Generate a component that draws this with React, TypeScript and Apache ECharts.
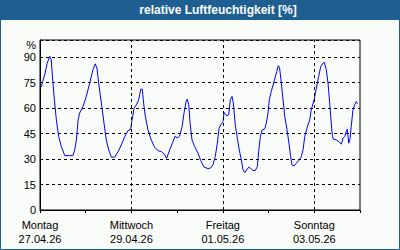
import React, { useEffect, useRef } from "react";
import * as echarts from "echarts";

// hours since Monday 27.04.26 00:00
const hours = [
  0.7, 1.4, 2.5, 3.8, 5.1, 5.9, 6.8, 7.7, 8.6, 9.8, 11.2, 13.0, 15.6, 17.3, 18.2, 19.1, 20.0, 20.8, 22.6,
  24.3, 26.1, 27.8, 29.0, 29.9, 30.8, 32.2, 33.6, 34.8, 36.1, 37.4, 39.2, 41.0, 42.7, 44.5, 46.2, 47.6,
  48.3, 49.4, 50.6, 51.8, 52.9, 53.7, 54.4, 55.3, 56.7, 58.4, 60.2, 62.0, 63.7, 65.1, 66.5, 68.1, 69.5,
  71.0, 72.1, 73.3, 74.6, 75.6, 76.7, 77.3, 78.1, 78.8, 79.8, 81.2, 83.0, 84.4, 86.1, 88.2, 89.6, 90.8,
  92.0, 93.1, 94.0, 94.9, 96.1, 96.6, 97.3, 98.0, 99.1, 99.9, 100.8, 101.5, 102.5, 103.6, 104.6, 105.7,
  106.6, 107.5, 108.5, 109.6, 110.6, 111.8, 113.0, 114.1, 114.8, 115.7, 116.6, 118.0, 118.8, 119.7,
  120.4, 121.4, 122.9, 124.3, 125.1, 125.8, 126.7, 127.6, 128.5, 129.7, 130.7, 131.6, 132.3, 133.4,
  134.6, 135.8, 137.2, 138.1, 139.0, 140.3, 141.6, 142.4, 143.9, 145.1, 146.3, 147.4, 148.6, 149.3,
  150.3, 151.2, 152.1, 152.9, 153.5, 154.0, 155.6, 157.0, 158.2, 159.1, 160.0, 160.8, 161.3, 162.1,
  162.8, 163.4, 164.3, 165.2, 166.1, 166.6,
];

const humidity = [
  72.3, 75.6, 79.6, 86.4, 90.4, 88.4, 74.7, 62.9, 53, 43.2, 37.3, 32, 32, 32, 35.4, 41.2, 53, 57, 60.9,
  66.8, 74.7, 82.5, 86, 83.5, 74.7, 62.9, 51.1, 41.2, 35.4, 31.1, 31.1, 34.4, 38.3, 43.2, 46.7, 47.5,
  53, 59.9, 61.9, 64.8, 71.1, 71.1, 62.9, 55, 47.1, 41.2, 36.9, 34.8, 34.4, 33, 30.4, 35.4, 39.3,
  43.6, 42.2, 43.6, 49.1, 57, 63.8, 65.2, 61.9, 51.1, 41.2, 37.3, 33.4, 29, 25.2, 24.4, 24.7, 26.5,
  31.4, 39.3, 48.1, 50.1, 52, 57.3, 56.6, 55.4, 56, 64.8, 66.8, 62.9, 50.1, 42.2, 35.4, 29.5,
  23.6, 22, 23.6, 25.2, 24.4, 23.2, 23.2, 25.5, 34.4, 43.2, 47.1, 47.7, 51.1, 57,
  64.8, 69.7, 75.6, 81.5, 84.9, 83.5, 74.7, 64.8, 55, 47.1, 39.3, 31.4, 26.5, 25.9,
  27.5, 29, 31.4, 35.4, 43.2, 48.7, 53, 58.9, 64.8, 71.7, 78.6, 84.4, 86.4, 86.8,
  82.5, 74.7, 62.9, 51.1, 43.6, 41.7, 41.2, 40.2, 38.7, 42.2, 43.2, 46.1, 47.5, 39.3,
  42.2, 49.1, 58.9, 61.9, 63.8, 62.5,
];

const dayNames = ["Montag", "Mittwoch", "Freitag", "Sonntag"];
const dayDates = ["27.04.26", "29.04.26", "01.05.26", "03.05.26"];
const labelHours = [0, 48, 96, 144];
const gridHours = [48, 96, 144];

const titleText = "relative Luftfeuchtigkeit [%]";
const font = "'Liberation Sans', Arial, sans-serif";

export default function App() {
  const ref = useRef<HTMLDivElement>(null);

  useEffect(() => {
    if (!ref.current) return;
    const chart = echarts.init(ref.current, undefined, { renderer: "svg" });
    const data = hours.map((h, i) => [h, humidity[i]]);
    chart.setOption({
      animation: false,
      backgroundColor: "#f9fcf9",
      textStyle: { fontFamily: font },
      grid: {
        left: 40,
        right: 40,
        top: 40,
        bottom: 40,
        show: true,
        borderColor: "#000",
        borderWidth: 1,
        backgroundColor: "transparent",
      },
      xAxis: {
        type: "value",
        min: 0,
        max: 168,
        interval: 24,
        axisLine: { show: true, lineStyle: { color: "#000", width: 1 } },
        axisTick: { show: true, length: 3, lineStyle: { color: "#000" } },
        splitLine: { show: false },
        axisLabel: {
          color: "#000",
          fontSize: 11,
          fontFamily: font,
          lineHeight: 14,
          margin: 8,
          showMinLabel: true,
          showMaxLabel: true,
          formatter: (v: number) => {
            const idx = labelHours.indexOf(v);
            return idx >= 0 ? dayNames[idx] + "\n" + dayDates[idx] : "";
          },
        },
      },
      yAxis: {
        type: "value",
        min: 0,
        max: 100,
        interval: 15,
        axisLine: { show: true, lineStyle: { color: "#000", width: 1 } },
        axisTick: { show: false },
        splitLine: { show: true, lineStyle: { color: "#000", type: [3, 3], width: 1 } },
        axisLabel: {
          color: "#000",
          fontSize: 11,
          fontFamily: font,
          margin: 4,
          formatter: (v: number) => (v >= 100 ? "" : String(v)),
        },
      },
      series: [
        {
          type: "line",
          data,
          showSymbol: false,
          symbol: "none",
          lineStyle: { color: "#0000ff", width: 1 },
          markLine: {
            silent: true,
            symbol: ["none", "none"],
            label: { show: false },
            lineStyle: { color: "#000", type: [3, 3], width: 1 },
            data: gridHours.map((h) => ({ xAxis: h })),
          },
        },
      ],
      graphic: [
        {
          type: "rect",
          shape: { x: 0, y: 0, width: 400, height: 20 },
          style: { fill: "#1e5e91" },
          silent: true,
        },
        {
          type: "rect",
          shape: { x: 0.5, y: 0.5, width: 399, height: 249 },
          style: { fill: "none", stroke: "#1e5e91", lineWidth: 1 },
          silent: true,
        },
        {
          type: "text",
          x: 218,
          y: 10,
          style: {
            text: titleText,
            fill: "#fff",
            font: "bold 12px " + font,
            textAlign: "center",
            textVerticalAlign: "middle",
          },
          silent: true,
        },
        {
          type: "text",
          x: 36,
          y: 45,
          style: {
            text: "%",
            fill: "#000",
            font: "11px " + font,
            textAlign: "right",
            textVerticalAlign: "middle",
          },
          silent: true,
        },
      ],
    });
    return () => chart.dispose();
  }, []);

  return (
    <div
      ref={ref}
      style={{ position: "absolute", left: 0, top: 0, width: 400, height: 250 }}
    />
  );
}
